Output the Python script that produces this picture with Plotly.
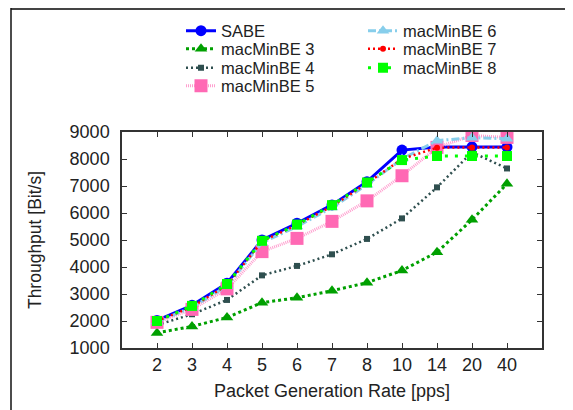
import plotly.graph_objects as go

rates = ["2", "3", "4", "5", "6", "7", "8", "10", "14", "20", "40"]
y_ticks = [1000, 2000, 3000, 4000, 5000, 6000, 7000, 8000, 9000]

sabe = [2020, 2580, 3400, 5000, 5620, 6300, 7160, 8330, 8440, 8450, 8440]
mac3 = [1560, 1800, 2130, 2680, 2860, 3120, 3420, 3870, 4550, 5750, 7080]
mac4 = [1850, 2250, 2780, 3690, 4040, 4470, 5040, 5800, 6950, 8250, 7650]
mac5 = [1950, 2430, 3190, 4570, 5060, 5690, 6450, 7380, 8430, 8870, 8800]
mac6 = [1980, 2500, 3300, 4900, 5500, 6200, 7050, 8000, 8680, 8790, 8750]
mac7 = [2000, 2520, 3330, 4950, 5560, 6250, 7100, 8000, 8420, 8430, 8430]
mac8 = [2000, 2560, 3370, 4970, 5570, 6290, 7130, 7960, 8110, 8110, 8110]

series = [
    ("SABE", sabe, dict(color="#0000ff", width=3, dash="solid"),
     dict(symbol="circle", size=11, color="#0000ff")),
    ("macMinBE 3", mac3, dict(color="#00a000", width=3, dash="3px,3px"),
     dict(symbol="triangle-up", size=11, color="#00a000")),
    ("macMinBE 4", mac4, dict(color="#2f4f4f", width=2.5, dash="2px,3px"),
     dict(symbol="square", size=6, color="#2f4f4f")),
    ("macMinBE 5", mac5, dict(color="#ff9fcf", width=3, dash="1px,1px"),
     dict(symbol="square", size=13, color="#ff69b4")),
    ("macMinBE 6", mac6, dict(color="#87ceeb", width=3, dash="8px,3px,2px,3px"),
     dict(symbol="triangle-up", size=11, color="#87ceeb")),
    ("macMinBE 7", mac7, dict(color="#ff0000", width=2.5, dash="2px,3px"),
     dict(symbol="circle", size=6, color="#ff0000")),
    ("macMinBE 8", mac8, dict(color="#00ff00", width=3, dash="3px,7px"),
     dict(symbol="square", size=10, color="#00ff00")),
]

# Page body has an 8px margin, so figure coordinates = page coordinates - 8.
L, T, PW, PH = 114, 124, 420, 216
W, H = 565, 402


def px_x(x):
    return (x - L) / PW


def px_y(y):
    return (T + PH - y) / PH


col_px = [173, 173, 173, 173, 355, 355, 355]
row_px = [23, 41, 60, 78, 23, 41, 60]

font_family = "Liberation Sans, Arial, Helvetica, sans-serif"

fig = go.Figure()
legend_layouts = {}
for i, (name, vals, line, marker) in enumerate(series):
    key = "legend" if i == 0 else f"legend{i + 1}"
    fig.add_trace(go.Scatter(
        x=rates, y=vals, name=name, mode="lines+markers",
        line=line, marker=marker, legend=key,
    ))
    legend_layouts[key] = dict(
        xref="container", yref="container", orientation="h",
        x=col_px[i] / W, y=1 - row_px[i] / H,
        xanchor="left", yanchor="middle",
        bgcolor="rgba(0,0,0,0)", borderwidth=0,
        font=dict(family=font_family, size=16.5, color="#222222"),
    )

axis_common = dict(
    showline=True, linecolor="#333333", linewidth=1.5, mirror="allticks",
    ticks="inside", ticklen=5, tickwidth=1.2, tickcolor="#333333",
    showgrid=False, zeroline=False,
    tickfont=dict(family=font_family, size=18, color="#222222"),
)

fig.update_layout(
    width=W, height=H,
    margin=dict(l=L, r=W - L - PW, t=T, b=H - T - PH),
    paper_bgcolor="white", plot_bgcolor="white",
    font=dict(family=font_family, color="#222222"),
    xaxis=dict(
        type="category", categoryorder="array", categoryarray=rates,
        range=[-1, 11], tickvals=rates, ticktext=rates,
        title=dict(text="Packet Generation Rate [pps]", standoff=10,
                   font=dict(family=font_family, size=18, color="#222222")),
        ticklabelstandoff=0,
        **axis_common,
    ),
    yaxis=dict(
        range=[1000, 9000], tickvals=y_ticks,
        title=dict(text="Throughput [Bit/s]", standoff=23,
                   font=dict(family=font_family, size=17.5, color="#222222")),
        ticklabelstandoff=7,
        **axis_common,
    ),
    shapes=[
        dict(type="line", xref="paper", yref="paper",
             x0=px_x(3), x1=px_x(570), y0=px_y(1), y1=px_y(1),
             line=dict(color="#444444", width=2)),
        dict(type="line", xref="paper", yref="paper",
             x0=px_x(3), x1=px_x(3), y0=px_y(0), y1=px_y(H + 4),
             line=dict(color="#111111", width=1.5)),
    ],
    showlegend=True,
    **legend_layouts,
)

fig.write_html("out.html")
